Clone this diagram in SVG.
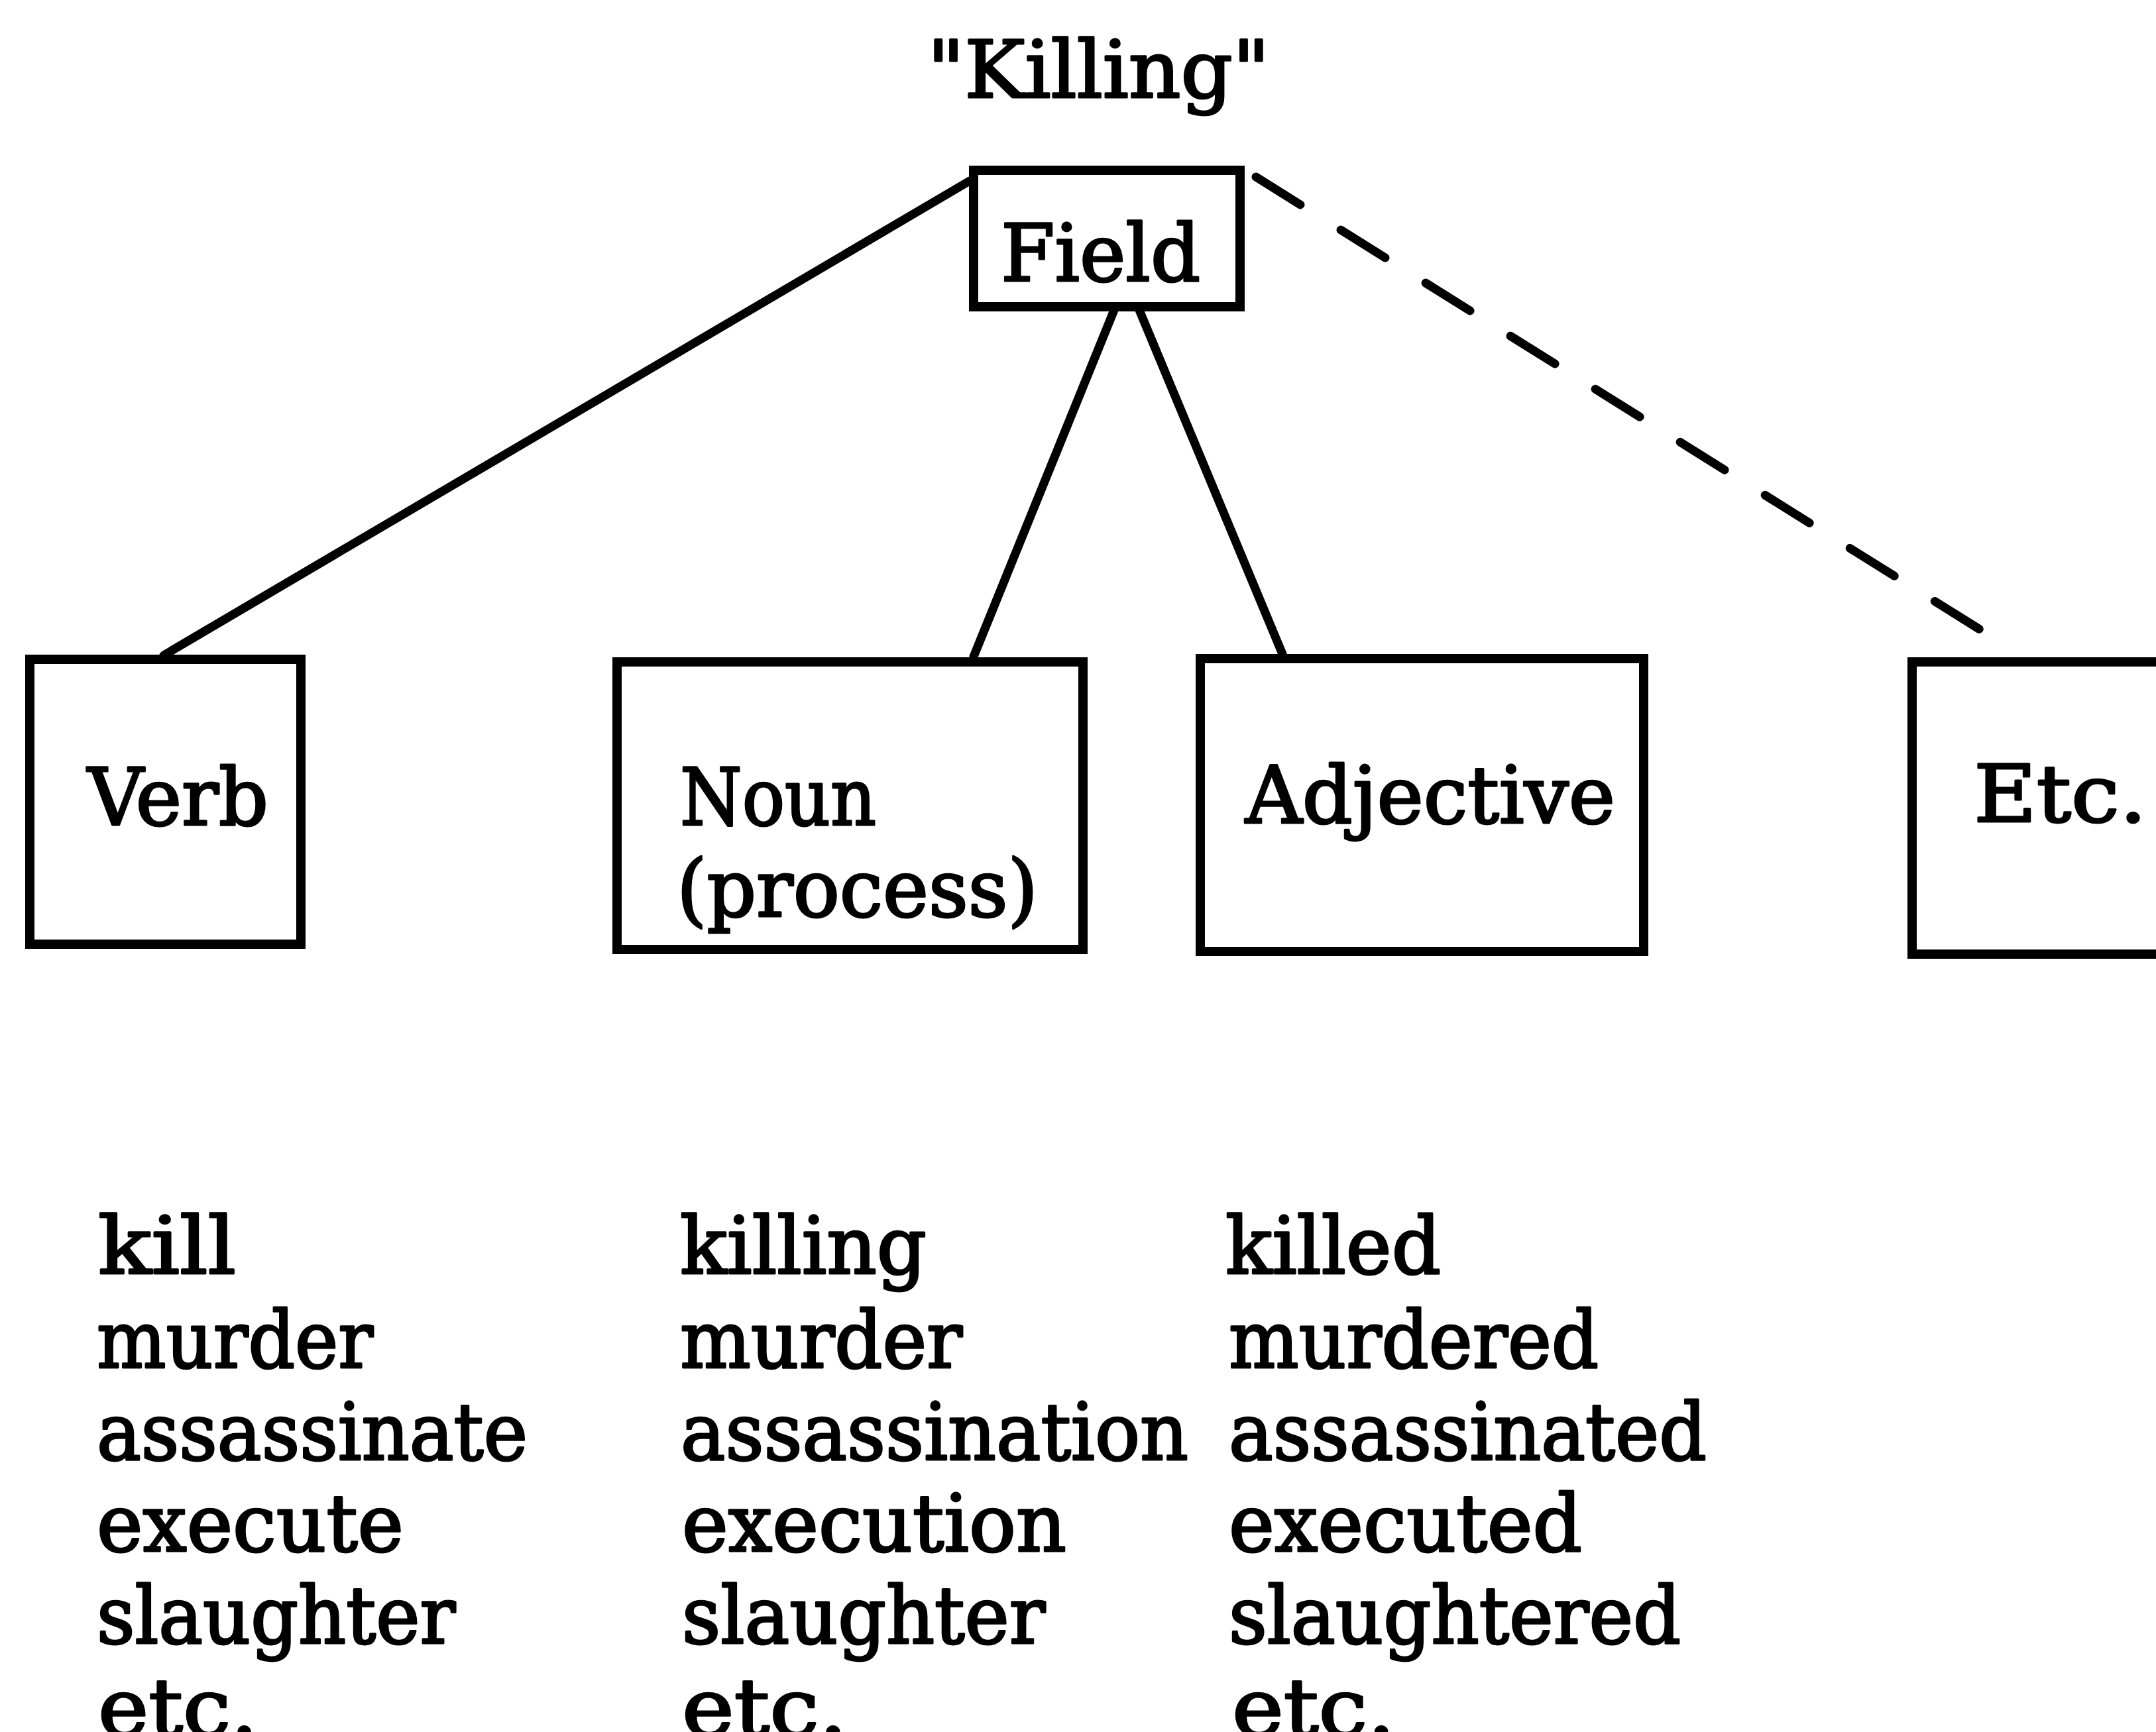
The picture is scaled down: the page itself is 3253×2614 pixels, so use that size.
<svg xmlns="http://www.w3.org/2000/svg" width="3253" height="2614" viewBox="0 0 3253 2614">
  <style>
    .box { fill: none; stroke: #000; stroke-width: 14; stroke-linejoin: miter; }
    .edge { fill: none; stroke: #000; stroke-width: 13; stroke-linecap: round; }
    .dash { stroke-dasharray: 79 72; }
    text { font-family: "DejaVu Serif Condensed", "DejaVu Serif", "Liberation Serif", serif; font-stretch: condensed; font-size: 120px; fill: #000; stroke: #000; stroke-width: 3; stroke-linejoin: round; }
  </style>
  <rect width="3253" height="2614" fill="#fff"/>

  <!-- connectors from the field to each word class -->
  <g id="connectors">
    <line class="edge" x1="1463" y1="273" x2="247" y2="989"/>
    <line class="edge" x1="1681" y1="468" x2="1469" y2="991"/>
    <line class="edge" x1="1719" y1="468" x2="1935" y2="987"/>
    <line class="edge dash" x1="1895" y1="267" x2="3000" y2="958"/>
  </g>

  <g id="title">
    <text x="1399" y="147" textLength="517" lengthAdjust="spacingAndGlyphs">"Killing"</text>
  </g>

  <g id="field">
    <rect class="box" x="1469" y="257" width="402" height="206"/>
    <text x="1510" y="424" textLength="301" lengthAdjust="spacingAndGlyphs">Field</text>
  </g>

  <g id="verb">
    <rect class="box" x="45" y="995" width="409" height="430"/>
    <text x="132" y="1245" textLength="273" lengthAdjust="spacingAndGlyphs">Verb</text>
  </g>

  <g id="noun">
    <rect class="box" x="931" y="999" width="703" height="434"/>
    <text x="1026" y="1245" textLength="296" lengthAdjust="spacingAndGlyphs">Noun</text>
    <text x="1021" y="1383" textLength="545" lengthAdjust="spacingAndGlyphs">(process)</text>
  </g>

  <g id="adjective">
    <rect class="box" x="1811" y="994" width="669" height="442"/>
    <text x="1879" y="1242" textLength="558" lengthAdjust="spacingAndGlyphs">Adjective</text>
  </g>

  <g id="etc">
    <rect class="box" x="2885" y="999" width="500" height="441"/>
    <text x="2978" y="1240" textLength="261" lengthAdjust="spacingAndGlyphs">Etc.</text>
  </g>

  <!-- word lists under each class -->
  <g id="verb-words">
    <text x="148" y="1922" textLength="208" lengthAdjust="spacingAndGlyphs">kill</text>
    <text x="146" y="2064" textLength="417" lengthAdjust="spacingAndGlyphs">murder</text>
    <text x="146" y="2203" textLength="650" lengthAdjust="spacingAndGlyphs">assassinate</text>
    <text x="146" y="2341" textLength="463" lengthAdjust="spacingAndGlyphs">execute</text>
    <text x="146" y="2480" textLength="541" lengthAdjust="spacingAndGlyphs">slaughter</text>
    <text x="148" y="2619" textLength="241" lengthAdjust="spacingAndGlyphs">etc.</text>
  </g>

  <g id="noun-words">
    <text x="1026" y="1922" textLength="372" lengthAdjust="spacingAndGlyphs">killing</text>
    <text x="1026" y="2064" textLength="426" lengthAdjust="spacingAndGlyphs">murder</text>
    <text x="1027" y="2203" textLength="766" lengthAdjust="spacingAndGlyphs">assassination</text>
    <text x="1029" y="2341" textLength="580" lengthAdjust="spacingAndGlyphs">execution</text>
    <text x="1029" y="2480" textLength="548" lengthAdjust="spacingAndGlyphs">slaughter</text>
    <text x="1029" y="2619" textLength="249" lengthAdjust="spacingAndGlyphs">etc.</text>
  </g>

  <g id="adjective-words">
    <text x="1849" y="1922" textLength="325" lengthAdjust="spacingAndGlyphs">killed</text>
    <text x="1854" y="2064" textLength="558" lengthAdjust="spacingAndGlyphs">murdered</text>
    <text x="1854" y="2203" textLength="721" lengthAdjust="spacingAndGlyphs">assassinated</text>
    <text x="1854" y="2341" textLength="533" lengthAdjust="spacingAndGlyphs">executed</text>
    <text x="1854" y="2480" textLength="682" lengthAdjust="spacingAndGlyphs">slaughtered</text>
    <text x="1859" y="2619" textLength="246" lengthAdjust="spacingAndGlyphs">etc.</text>
  </g>
</svg>
